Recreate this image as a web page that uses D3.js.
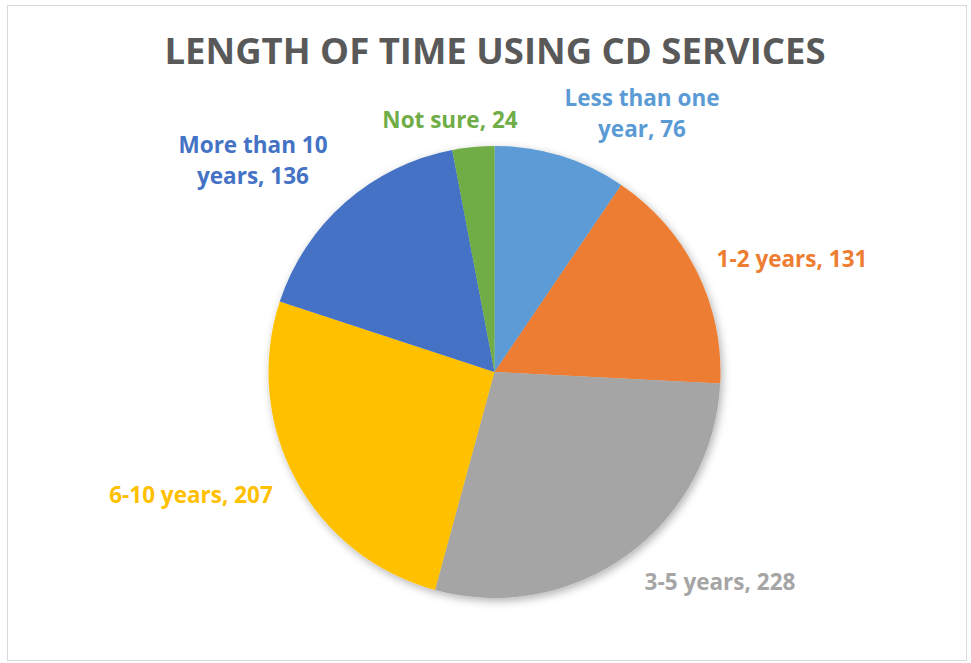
<!DOCTYPE html>
<html>
<head>
<meta charset="utf-8">
<script src="https://cdn.jsdelivr.net/npm/d3@7"></script>
<style>
  html, body { margin: 0; padding: 0; background: #fff; }
  svg { display: block; }
</style>
</head>
<body>
<script>
// Survey responses: how long respondents have used CD services
const categories = ["Less than one year", "1-2 years", "3-5 years", "6-10 years", "More than 10 years", "Not sure"];
const counts = [76, 131, 228, 207, 136, 24];
const colors = ["#5B9BD5", "#ED7D31", "#A5A5A5", "#FFC000", "#4472C4", "#70AD47"];
// Label lines as shown beside each slice
const labelLines = [
  ["Less than one", "year, 76"],
  ["1-2 years, 131"],
  ["3-5 years, 228"],
  ["6-10 years, 207"],
  ["More than 10", "years, 136"],
  ["Not sure, 24"]
];
// Label anchor points (centre x, first baseline y)
const labelPos = [[642, 106], [792, 267], [720, 590], [191, 503], [253, 153], [450, 128]];

const W = 971, H = 663;
const cx = 494.5, cy = 372, R = 226;

const svg = d3.select("body").append("svg").attr("width", W).attr("height", H);

// Chart area frame
svg.append("rect")
  .attr("x", 7.5).attr("y", 5.5).attr("width", 959).attr("height", 655)
  .attr("fill", "#fff").attr("stroke", "#D9D9D9").attr("stroke-width", 1);

// Soft outer shadow for the pie
const defs = svg.append("defs");
const f = defs.append("filter").attr("id", "shadow")
  .attr("x", "-20%").attr("y", "-20%").attr("width", "140%").attr("height", "140%");
f.append("feDropShadow").attr("dx", 2).attr("dy", 3).attr("stdDeviation", 4)
  .attr("flood-color", "#000").attr("flood-opacity", 0.3);

svg.append("text")
  .attr("x", 495).attr("y", 64)
  .attr("text-anchor", "middle")
  .attr("font-family", "'Open Sans', Lato, sans-serif")
  .attr("font-weight", 700)
  .attr("font-size", 36.5)
  .attr("fill", "#595959")
  .text("LENGTH OF TIME USING CD SERVICES");

const pie = d3.pie().sort(null).value(d => d);
const arc = d3.arc().innerRadius(0).outerRadius(R);
const arcs = pie(counts);

const g = svg.append("g").attr("transform", `translate(${cx},${cy})`).attr("filter", "url(#shadow)");
g.selectAll("path").data(arcs).join("path")
  .attr("d", arc)
  .attr("fill", (d, i) => colors[i]);

const labels = svg.append("g")
  .attr("font-family", "'Open Sans', Lato, sans-serif")
  .attr("font-weight", 700)
  .attr("font-size", 22.5)
  .attr("text-anchor", "middle");

labels.selectAll("text").data(arcs).join("text")
  .attr("x", (d, i) => labelPos[i][0])
  .attr("y", (d, i) => labelPos[i][1])
  .attr("fill", (d, i) => colors[i])
  .each(function(d, i) {
    const t = d3.select(this);
    labelLines[i].forEach((line, k) => {
      t.append("tspan")
        .attr("x", labelPos[i][0])
        .attr("dy", k === 0 ? 0 : 31)
        .text(line);
    });
  });
</script>
</body>
</html>
